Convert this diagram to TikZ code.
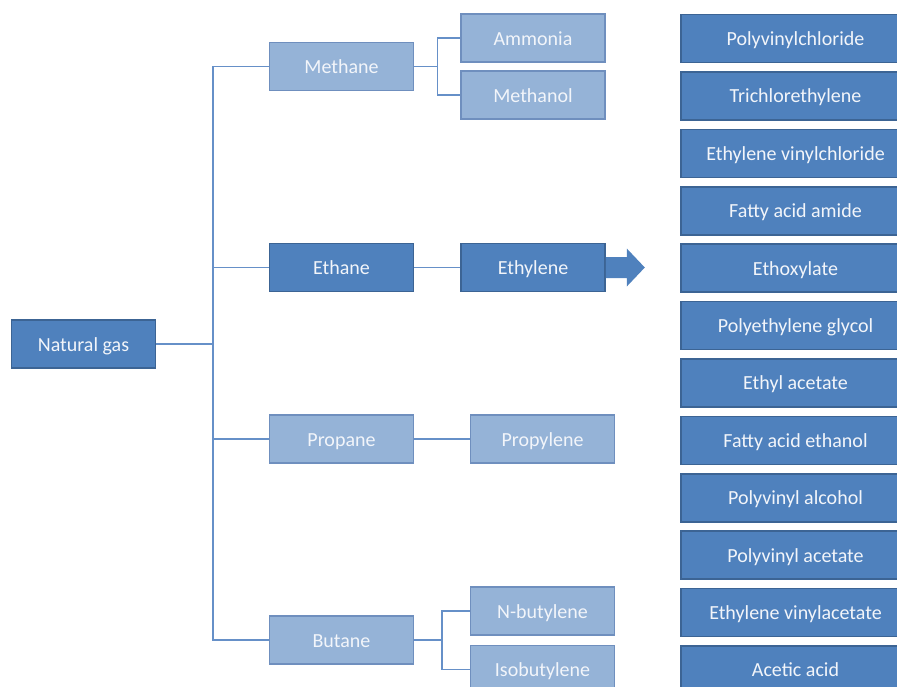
\documentclass[tikz,border=0pt]{standalone}
\usepackage{fontspec}
\setmainfont{Carlito}
\usetikzlibrary{calc}
\definecolor{darkfill}{HTML}{4F81BD}
\definecolor{darkline}{HTML}{3C6494}
\definecolor{lightfill}{HTML}{95B3D7}
\definecolor{lightline}{HTML}{6F8FBE}
\definecolor{connc}{HTML}{6690C8}
\definecolor{txtc}{HTML}{F2F5FA}
\begin{document}
\begin{tikzpicture}[x=1pt,y=-1pt,
  box/.style={rectangle,inner sep=0pt,line width=1.6pt,text=txtc,
    font=\fontsize{20}{22}\selectfont,minimum height=48pt,
    text height=14pt,text depth=0pt},
  darkbox/.style={box,fill=darkfill,draw=darkline},
  lightbox/.style={box,fill=lightfill,draw=lightline},
  midw/.style={minimum width=144pt},
  rightw/.style={minimum width=229pt},
  conn/.style={draw=connc,line width=1.6pt}]
\useasboundingbox (0,0) rectangle (897,686);
\clip (0,0) rectangle (897,686);
% left column
\node[darkbox,midw] (ng) at (83.5,344) {Natural gas};
\node[lightbox,midw] (methane) at (341.5,66.5) {Methane};
\node[darkbox,midw] (ethane) at (341.5,267.5) {Ethane};
\node[lightbox,midw] (propane) at (341.5,439) {Propane};
\node[lightbox,midw] (butane) at (341.5,640) {Butane};
% products
\node[lightbox,midw] (ammonia) at (533,38) {Ammonia};
\node[lightbox,midw] (methanol) at (533,95) {Methanol};
\node[darkbox,midw] (ethylene) at (533,267.5) {Ethylene};
\node[lightbox,midw] (propylene) at (542.5,439) {Propylene};
\node[lightbox,midw] (nbut) at (542.5,611) {N-butylene};
\node[lightbox,midw] (isobut) at (542.5,669.5) {Isobutylene};
% right column
\foreach \t [count=\i from 0] in {Polyvinylchloride,Trichlorethylene,Ethylene vinylchloride,Fatty acid amide,Ethoxylate,Polyethylene glycol,Ethyl acetate,Fatty acid ethanol,Polyvinyl alcohol,Polyvinyl acetate,Ethylene vinylacetate,Acetic acid}
  \node[darkbox,rightw] (r\i) at (795.5,38.5+57.4*\i) {\t};
% connectors
\coordinate (tk) at (213,344);
\coordinate (mb) at (437.5,66.5);
\coordinate (bb) at (442,640);
\draw[conn] (ng.east) -- (tk);
\draw[conn] (methane.west) -- (methane.west -| tk) -- (butane.west -| tk) -- (butane.west);
\draw[conn] (ethane.west) -- (ethane.west -| tk);
\draw[conn] (propane.west) -- (propane.west -| tk);
\draw[conn] (methane.east) -- (mb);
\draw[conn] (ammonia.west) -| (mb) |- (methanol.west);
\draw[conn] (ethane.east) -- (ethylene.west);
\draw[conn] (propane.east) -- (propylene.west);
\draw[conn] (butane.east) -- (bb);
\draw[conn] (nbut.west) -| (bb) |- (isobut.west);
% block arrow
\fill[darkfill] ($(ethylene.east)+(0,-10.5)$) -- ++(21,0) -- ++(0,-8.5) -- ++(18,19) -- ++(-18,19) -- ++(0,-8.5) -- ++(-21,0) -- cycle;
\end{tikzpicture}
\end{document}
